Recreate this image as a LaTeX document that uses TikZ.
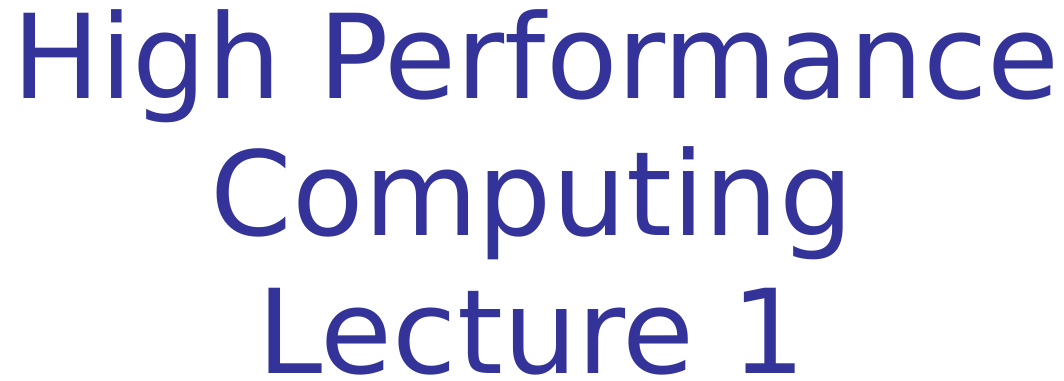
\documentclass[tikz,border=0pt]{standalone}
\usepackage{fontspec}
\setmainfont{DejaVu Sans}
\definecolor{titleblue}{RGB}{51,51,153}
\begin{document}
\begin{tikzpicture}[x=1pt,y=1pt]
	\tikzset{titletext/.style={text=titleblue,inner sep=0pt,anchor=base,font=\fontsize{117}{137}\selectfont}}
	\useasboundingbox (0,0) rectangle (1064,380);
	% Titelzeilen
	\node[titletext] (high) at (536,281) {High Performance};
	\node[titletext] (comp) at (532,144) {Computing};
	\node[titletext] (lect) at (532,7) {Lecture 1};
\end{tikzpicture}
\end{document}
